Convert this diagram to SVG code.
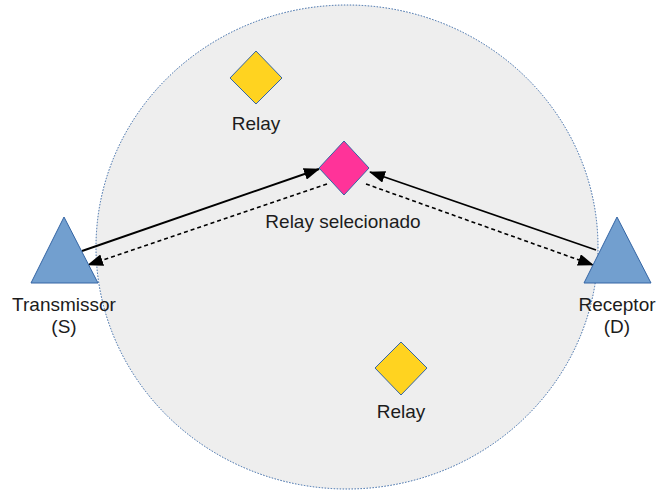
<svg xmlns="http://www.w3.org/2000/svg" width="656" height="493" viewBox="0 0 656 493">
<style>
text{font-family:"Liberation Sans",Arial,sans-serif;font-size:19px;fill:#1c1c1c;text-anchor:middle}
.tri{fill:#729fcf;stroke:#3465a4;stroke-width:1}
.relay{fill:#ffd320;stroke:#3465a4;stroke-width:1}
.sel{fill:#ff3399;stroke:#3465a4;stroke-width:1}
.solid{stroke:#000;stroke-width:2;fill:none}
.dash{stroke:#000;stroke-width:1.6;fill:none;stroke-dasharray:4 3}
</style>
<defs>
<marker id="ah" markerWidth="16" markerHeight="12" refX="15" refY="6" orient="auto" markerUnits="userSpaceOnUse">
<path d="M0,0 L16,6 L0,12 Z" fill="#000"/>
</marker>
</defs>
<rect width="656" height="493" fill="#fff"/>
<g id="area">
<ellipse cx="347" cy="247" rx="251" ry="242" fill="#eeeeee" stroke="#3465a4" stroke-width="1" stroke-dasharray="1.5 1.5"/>
</g>
<g id="connectors">
<line class="solid" x1="82" y1="251" x2="319" y2="169" marker-end="url(#ah)"/>
<line class="dash" x1="327" y1="184" x2="88" y2="265" marker-end="url(#ah)"/>
<line class="solid" style="stroke-width:1.6" x1="596" y1="250" x2="370" y2="172" marker-end="url(#ah)"/>
<line class="dash" x1="366" y1="184" x2="593" y2="265" marker-end="url(#ah)"/>
</g>
<g id="relay-top">
<polygon class="relay" points="256,51 282,78 256,104 230,78"/>
<text x="256" y="130">Relay</text>
</g>
<g id="relay-selected">
<polygon class="sel" points="344,141 369,168 344,195 319,168"/>
<text x="343" y="228">Relay selecionado</text>
</g>
<g id="relay-bottom">
<polygon class="relay" points="401,342 427,368 401,395 375,368"/>
<text x="401" y="418">Relay</text>
</g>
<g id="transmitter">
<polygon class="tri" points="64,217 98,283 31,283"/>
<text x="64" y="311">Transmissor</text>
<text x="64" y="333">(S)</text>
</g>
<g id="receiver">
<polygon class="tri" points="617,217 651,283 584,283"/>
<text x="617" y="311">Receptor</text>
<text x="617" y="333">(D)</text>
</g>
</svg>
